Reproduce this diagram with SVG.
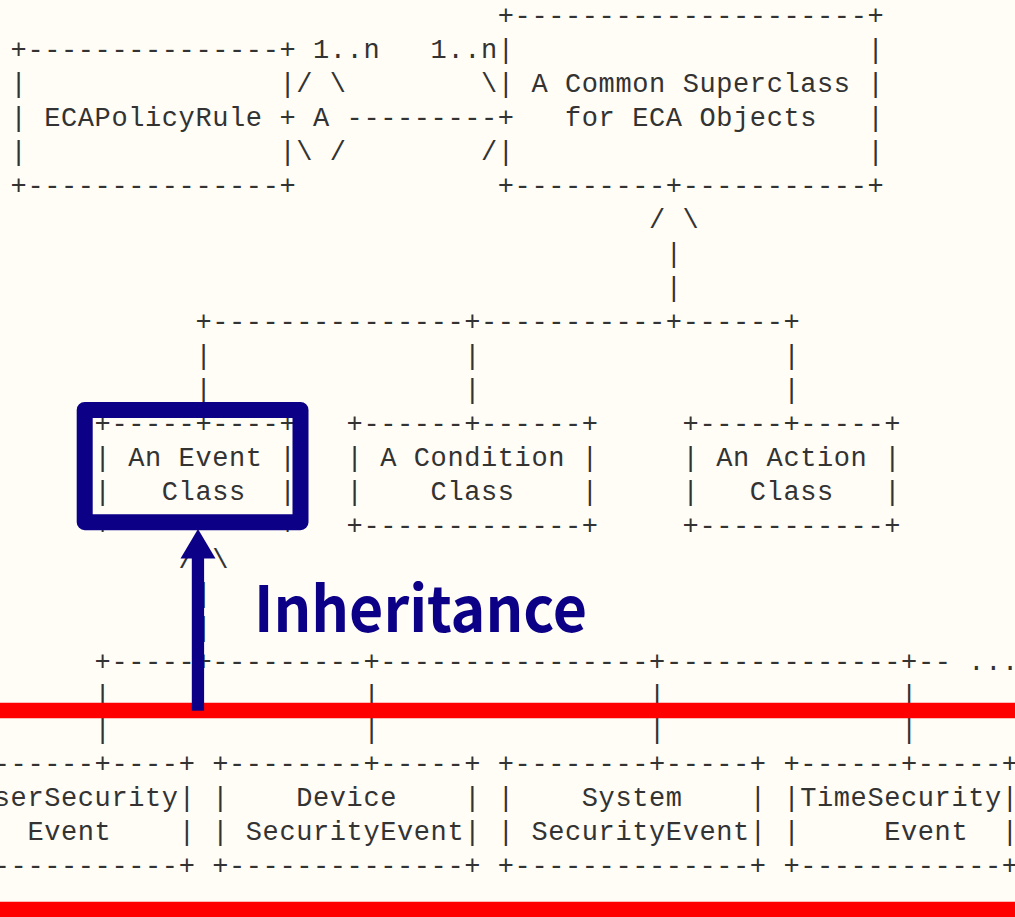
<svg xmlns="http://www.w3.org/2000/svg" width="1015" height="917" viewBox="0 0 1015 917">
  <style>
    .t { font-family: "Liberation Mono", "DejaVu Sans Mono", monospace; font-size: 27px; letter-spacing: 0.6px; fill: #333333; white-space: pre; }
    .hl { fill: none; stroke: #0c0087; stroke-width: 16; stroke-linejoin: round; }
    .band { stroke: #ff0000; stroke-width: 15.6; }
    .note { font-family: "Noto Sans CJK KR", "Noto Sans", sans-serif; font-weight: bold; font-size: 63px; fill: #0c0087; }
  </style>
  <rect x="0" y="0" width="1015" height="917" fill="#fffdf6"/>

  <!-- grid: column c starts at x = 10.6 + 16.8c, row r baseline at y = 24 + 34r -->
  <g id="ecapolicyrule">
    <text class="t" xml:space="preserve" x="10.6" y="58">+---------------+</text>
    <text class="t" xml:space="preserve" x="10.6" y="92">|               |</text>
    <text class="t" xml:space="preserve" x="10.6" y="126">| ECAPolicyRule +</text>
    <text class="t" xml:space="preserve" x="10.6" y="160">|               |</text>
    <text class="t" xml:space="preserve" x="10.6" y="194">+---------------+</text>
  </g>

  <g id="common-superclass">
    <text class="t" xml:space="preserve" x="497.8" y="24">+---------------------+</text>
    <text class="t" xml:space="preserve" x="497.8" y="58">|                     |</text>
    <text class="t" xml:space="preserve" x="497.8" y="92">| A Common Superclass |</text>
    <text class="t" xml:space="preserve" x="497.8" y="126">+   for ECA Objects   |</text>
    <text class="t" xml:space="preserve" x="497.8" y="160">|                     |</text>
    <text class="t" xml:space="preserve" x="497.8" y="194">+---------+-----------+</text>
  </g>

  <g id="event-class">
    <text class="t" xml:space="preserve" x="94.6" y="432">+-----+----+</text>
    <text class="t" xml:space="preserve" x="94.6" y="466">| An Event |</text>
    <text class="t" xml:space="preserve" x="94.6" y="500">|   Class  |</text>
    <text class="t" xml:space="preserve" x="94.6" y="534">+----------+</text>
  </g>

  <g id="condition-class">
    <text class="t" xml:space="preserve" x="346.6" y="432">+------+------+</text>
    <text class="t" xml:space="preserve" x="346.6" y="466">| A Condition |</text>
    <text class="t" xml:space="preserve" x="346.6" y="500">|    Class    |</text>
    <text class="t" xml:space="preserve" x="346.6" y="534">+-------------+</text>
  </g>

  <g id="action-class">
    <text class="t" xml:space="preserve" x="682.6" y="432">+-----+-----+</text>
    <text class="t" xml:space="preserve" x="682.6" y="466">| An Action |</text>
    <text class="t" xml:space="preserve" x="682.6" y="500">|   Class   |</text>
    <text class="t" xml:space="preserve" x="682.6" y="534">+-----------+</text>
  </g>

  <g id="user-security-event">
    <text class="t" xml:space="preserve" x="-39.8" y="772">+-------+----+</text>
    <text class="t" xml:space="preserve" x="-39.8" y="806">|UserSecurity|</text>
    <text class="t" xml:space="preserve" x="-39.8" y="840">|   Event    |</text>
    <text class="t" xml:space="preserve" x="-39.8" y="874">+------------+</text>
  </g>

  <g id="device-security-event">
    <text class="t" xml:space="preserve" x="212.2" y="772">+--------+-----+</text>
    <text class="t" xml:space="preserve" x="212.2" y="806">|    Device    |</text>
    <text class="t" xml:space="preserve" x="212.2" y="840">| SecurityEvent|</text>
    <text class="t" xml:space="preserve" x="212.2" y="874">+--------------+</text>
  </g>

  <g id="system-security-event">
    <text class="t" xml:space="preserve" x="497.8" y="772">+--------+-----+</text>
    <text class="t" xml:space="preserve" x="497.8" y="806">|    System    |</text>
    <text class="t" xml:space="preserve" x="497.8" y="840">| SecurityEvent|</text>
    <text class="t" xml:space="preserve" x="497.8" y="874">+--------------+</text>
  </g>

  <g id="time-security-event">
    <text class="t" xml:space="preserve" x="783.4" y="772">+------+-----+</text>
    <text class="t" xml:space="preserve" x="783.4" y="806">|TimeSecurity|</text>
    <text class="t" xml:space="preserve" x="783.4" y="840">|     Event  |</text>
    <text class="t" xml:space="preserve" x="783.4" y="874">+------------+</text>
  </g>

  <g id="connectors">
    <!-- aggregation between the rule and the superclass -->
    <text class="t" xml:space="preserve" x="313" y="58">1..n   1..n</text>
    <text class="t" xml:space="preserve" x="296.2" y="92">/ \        \</text>
    <text class="t" xml:space="preserve" x="313" y="126">A ---------</text>
    <text class="t" xml:space="preserve" x="296.2" y="160">\ /        /</text>
    <!-- inheritance from the superclass -->
    <text class="t" xml:space="preserve" x="649" y="228">/ \</text>
    <text class="t" xml:space="preserve" x="665.8" y="262">|</text>
    <text class="t" xml:space="preserve" x="665.8" y="296">|</text>
    <text class="t" xml:space="preserve" x="195.4" y="330">+---------------+-----------+------+</text>
    <text class="t" xml:space="preserve" x="195.4" y="364">|               |                  |</text>
    <text class="t" xml:space="preserve" x="195.4" y="398">|               |                  |</text>
    <!-- inheritance from the event class -->
    <text class="t" xml:space="preserve" x="178.6" y="568">/ \</text>
    <text class="t" xml:space="preserve" x="195.4" y="602">|</text>
    <text class="t" xml:space="preserve" x="195.4" y="636">|</text>
    <text class="t" xml:space="preserve" x="94.6" y="670">+-----+---------+----------------+--------------+-- ...</text>
    <text class="t" xml:space="preserve" x="94.6" y="704">|               |                |              |</text>
    <text class="t" xml:space="preserve" x="94.6" y="738">|               |                |              |</text>
  </g>

  <g id="annotations">
    <line class="band" x1="0" y1="710.5" x2="1015" y2="710.5"/>
    <line class="band" x1="0" y1="909.5" x2="1015" y2="909.5"/>
    <rect class="hl" x="84.7" y="410" width="215.8" height="112.2"/>
    <rect x="191.8" y="556" width="12.3" height="154.7" fill="#0c0087"/>
    <polygon points="198,529 180.5,558.5 215.5,558.5" fill="#0c0087"/>
    <text class="note" x="254" y="631.5" textLength="333" lengthAdjust="spacingAndGlyphs">Inheritance</text>
  </g>
</svg>
